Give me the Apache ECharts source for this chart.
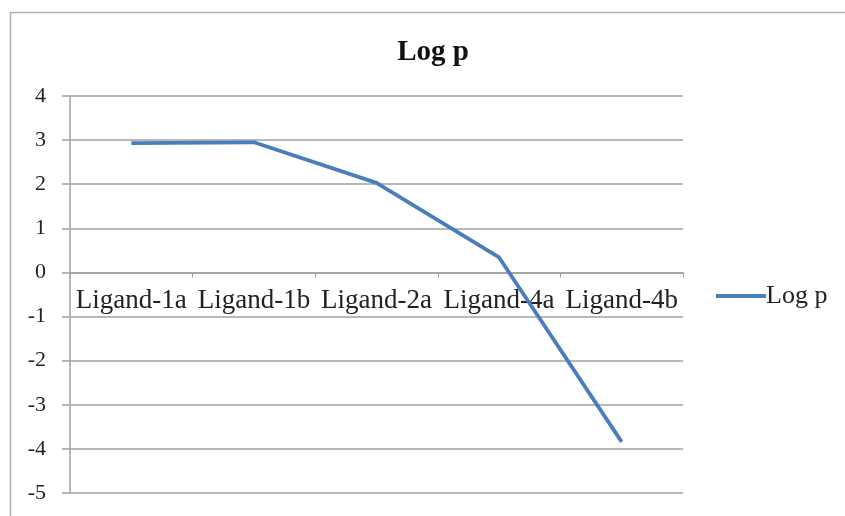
<!DOCTYPE html>
<html><head><meta charset="utf-8">
<script src="https://cdn.jsdelivr.net/npm/echarts@6/dist/echarts.min.js"></script>
<style>html,body{margin:0;padding:0;background:#fff;}#c{width:845px;height:516px;}</style>
</head><body><div id="c"></div>
<script>
var categories = ['Ligand-1a','Ligand-1b','Ligand-2a','Ligand-4a','Ligand-4b'];
var logpValues = [2.93, 2.95, 2.03, 0.34, -3.84];
var seriesName = 'Log p';
var yMin = -5, yMax = 4;
var chart = echarts.init(document.getElementById('c'));
var serif = '"Liberation Serif", "DejaVu Serif", serif';
var gridTop = 96, gridBottom = 23, H = 516;
var plotH = H - gridTop - gridBottom;
var zeroOffset = -plotH * (0 - yMin) / (yMax - yMin);
chart.setOption({
  animation: false,
  backgroundColor: '#fff',
  graphic: [{type:'rect', shape:{x:10.5,y:12.5,width:900,height:600}, style:{fill:'none', stroke:'#b0b0b0', lineWidth:1.5}, silent:true}],
  title: {text: 'Log p', left: 428, top: 33, textAlign: 'center',
    textStyle:{fontFamily: serif, fontWeight:'bold', fontSize:29, color:'#111'}},
  legend: {data:[seriesName], left: 711, top: 278, itemWidth: 50, itemHeight: 4, itemGap: 0,
    icon: 'rect',
    textStyle:{fontFamily: serif, fontSize:26, color:'#222', padding:[0,0,0,-5]}},
  grid: {left: 70, right: 162, top: gridTop, bottom: gridBottom, containLabel: false},
  xAxis: {type:'category', data: categories, boundaryGap: true, offset: zeroOffset,
    axisLine:{onZero:false, lineStyle:{color:'#a0a0a0', width:1.5}},
    axisTick:{show:true, length:5, inside:false, lineStyle:{color:'#a0a0a0'}},
    axisLabel:{fontFamily: serif, fontSize:27, color:'#222', margin:15, interval:0},
    splitLine:{show:false}},
  yAxis: {type:'value', min:yMin, max:yMax, interval:1,
    axisLine:{show:true, lineStyle:{color:'#a0a0a0', width:1.5}},
    axisTick:{show:true, length:8, lineStyle:{color:'#a0a0a0', width:1.5}},
    axisLabel:{fontFamily: serif, fontSize:22, color:'#222', margin:24, padding:[6,0,0,0]},
    splitLine:{show:true, lineStyle:{color:'#a0a0a0', width:1.5}}},
  series: [{name: seriesName, type:'line', data: logpValues, symbol:'none',
    lineStyle:{color:'#4a7ebb', width:3.8}, itemStyle:{color:'#4a7ebb'}}]
});
</script></body></html>
